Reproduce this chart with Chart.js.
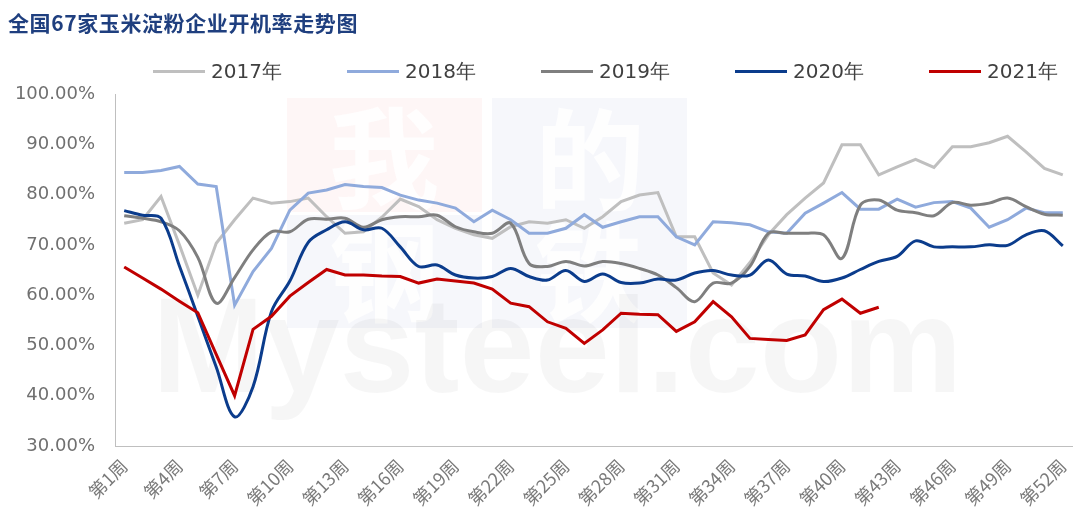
<!DOCTYPE html>
<html>
<head>
<meta charset="utf-8">
<script src="https://cdn.jsdelivr.net/npm/chart.js@4/dist/chart.umd.min.js"></script>
<style>
  body { margin: 0; background: #fff; }
  #wrap { position: relative; width: 1073px; height: 532px; }
  #title {
    position: absolute; left: 8px; top: 7px;
    font: bold 21px "Noto Sans CJK SC", sans-serif;
    color: #1F3F7F; letter-spacing: 0.6px;
  }
  #legend { position: absolute; left: 153px; top: 58px; display: flex; }
  .item { width: 194px; display: flex; align-items: center; height: 26px; }
  .swatch { width: 52px; height: 3px; margin-right: 6px; }
  .label { font: 20px "DejaVu Sans", sans-serif; color: #404040; }
</style>
</head>
<body>
<div id="wrap">
  <canvas id="chart" width="1073" height="532"></canvas>
  <div id="title">全国67家玉米淀粉企业开机率走势图</div>
  <div id="legend"></div>
</div>
<script>
// x categories: 第1周 ... 第52周
const weeks = [];
for (let i = 1; i <= 52; i++) weeks.push('第' + i + '周');

const seriesNames = ['2017年', '2018年', '2019年', '2020年', '2021年'];
const seriesColors = ['#BFBFBF', '#8FAADC', '#7F7F7F', '#0B3C8C', '#C00000'];

// operating rate, %
const rate2017 = [74.3, 75.0, 79.6, 70.0, 60.0, 70.3, 75.0, 79.3, 78.3, 78.6,
  79.3, 75.6, 72.3, 72.6, 75.5, 79.1, 77.6, 75.0, 73.3, 72.0,
  71.3, 73.6, 74.6, 74.3, 75.0, 73.3, 75.6, 78.6, 79.9, 80.4,
  71.6, 71.6, 64.4, 62.0, 66.5, 72.0, 76.0, 79.3, 82.3, 89.9,
  89.9, 83.9, 85.5, 87.0, 85.4, 89.5, 89.5, 90.3, 91.6, 88.5, 85.2, 83.9];
const rate2018 = [84.4, 84.4, 84.8, 85.6, 82.1, 81.6, 58.0, 64.7, 69.3, 76.9,
  80.3, 80.9, 82.0, 81.6, 81.4, 79.9, 78.9, 78.3, 77.3, 74.6,
  76.9, 75.0, 72.3, 72.3, 73.3, 76.0, 73.5, 74.6, 75.6, 75.6,
  71.6, 70.0, 74.6, 74.4, 74.0, 72.6, 72.3, 76.3, 78.3, 80.4,
  77.1, 77.1, 79.1, 77.5, 78.4, 78.6, 77.3, 73.5, 75.0, 77.3, 76.4, 76.4];
const rate2019 = [75.8, 75.3, 74.6, 72.8, 67.5, 58.4, 63.5, 69.0, 72.6, 72.6,
  75.1, 75.1, 75.3, 73.5, 75.0, 75.6, 75.6, 75.9, 73.6, 72.6,
  72.3, 74.3, 66.3, 65.7, 66.7, 65.8, 66.7, 66.3, 65.3, 64.0,
  61.5, 58.7, 62.4, 62.4, 65.7, 72.3, 72.3, 72.3, 72.0, 67.3,
  77.9, 78.9, 76.9, 76.4, 75.8, 78.4, 77.9, 78.3, 79.3, 77.6, 76.1, 75.9];
const rate2020 = [76.8, 75.9, 75.3, 65.8, 55.8, 45.7, 35.8, 41.8, 56.7, 62.8,
  70.5, 73.0, 74.6, 73.0, 73.3, 69.6, 65.7, 66.0, 64.0, 63.4,
  63.7, 65.3, 63.7, 63.0, 64.9, 62.7, 64.2, 62.5, 62.4, 63.2,
  63.0, 64.4, 64.9, 64.0, 64.0, 67.0, 64.2, 63.8, 62.7, 63.4,
  65.1, 66.7, 67.7, 70.8, 69.6, 69.6, 69.6, 70.0, 69.9, 72.0, 72.8, 69.8];
const rate2021 = [65.6, 63.4, 61.2, 58.8, 56.5, 48.2, 40.0, 53.2, 55.8, 59.8,
  62.5, 65.1, 64.0, 64.0, 63.8, 63.7, 62.4, 63.2, 62.8, 62.4,
  61.2, 58.4, 57.7, 54.7, 53.4, 50.4, 53.1, 56.4, 56.2, 56.1,
  52.8, 54.7, 58.7, 55.7, 51.4, 51.2, 51.0, 52.1, 57.1, 59.2,
  56.4, 57.6];

const yTicks = [30, 40, 50, 60, 70, 80, 90, 100];

const allRates = [rate2017, rate2018, rate2019, rate2020, rate2021];
// 2019 and 2020 are drawn as smoothed lines in the original
const smooth = [0, 0, 0.35, 0.35, 0];

// faint site watermark behind the lines
const watermark = {
  id: 'watermark',
  beforeDatasetsDraw(chart) {
    const ctx = chart.ctx;
    ctx.save();
    ctx.fillStyle = 'rgba(230,70,70,0.05)';
    ctx.fillRect(287, 98, 195, 114);
    ctx.fillStyle = 'rgba(70,100,170,0.05)';
    ctx.fillRect(287, 215, 195, 113);
    ctx.fillRect(492, 98, 195, 230);
    ctx.fillStyle = 'rgba(255,255,255,0.9)';
    ctx.font = 'bold 110px "Noto Sans CJK SC"';
    ctx.textAlign = 'center';
    ctx.textBaseline = 'middle';
    ctx.fillText('我', 384, 158);
    ctx.fillText('的', 590, 160);
    ctx.fillText('钢', 384, 272);
    ctx.fillText('铁', 590, 272);
    ctx.fillStyle = 'rgba(0,0,0,0.035)';
    ctx.font = 'bold 135px "Liberation Sans"';
    ctx.textAlign = 'left';
    ctx.textBaseline = 'alphabetic';
    ctx.fillText('Mysteel.com', 152, 392, 915);
    ctx.restore();
  }
};

const datasets = seriesNames.map((name, i) => ({
  label: name,
  data: allRates[i],
  borderColor: seriesColors[i],
  backgroundColor: seriesColors[i],
  borderWidth: 3,
  pointRadius: 0,
  tension: smooth[i],
  fill: false,
  order: 5 - i
}));

new Chart(document.getElementById('chart'), {
  type: 'line',
  data: { labels: weeks, datasets: datasets },
  options: {
    responsive: false,
    devicePixelRatio: 1,
    animation: false,
    layout: { padding: { left: 0, top: 94, right: 1, bottom: 0 } },
    plugins: {
      legend: { display: false },
      tooltip: { enabled: false }
    },
    scales: {
      x: {
        offset: true,
        grid: { display: false, drawTicks: false },
        border: { display: true, color: '#BFBFBF', width: 1 },
        ticks: {
          autoSkip: false,
          minRotation: 45,
          maxRotation: 45,
          padding: 9,
          color: '#7a7a7a',
          font: { size: 18, family: '"Noto Sans CJK SC", sans-serif' },
          callback: (v, i) => (i % 3 === 0 ? weeks[i] : '')
        },
        afterFit: s => { s.height = 86; s.paddingLeft = 0; s.paddingRight = 0; }
      },
      y: {
        min: 30,
        max: 100,
        grid: { display: false, drawTicks: false },
        border: { display: true, color: '#BFBFBF', width: 1 },
        afterBuildTicks: s => { s.ticks = yTicks.map(v => ({ value: v })); },
        ticks: {
          padding: 20,
          color: '#707070',
          font: { size: 18, family: '"DejaVu Sans", sans-serif' },
          callback: v => v.toFixed(2) + '%'
        },
        afterFit: s => { s.width = 115; s.paddingTop = 0; s.paddingBottom = 0; }
      }
    }
  },
  plugins: [watermark]
});

// legend in the same order as the series
const legend = document.getElementById('legend');
seriesNames.forEach((name, i) => {
  const item = document.createElement('div');
  item.className = 'item';
  item.innerHTML = '<span class="swatch" style="background:' + seriesColors[i] +
    '"></span><span class="label">' + name + '</span>';
  legend.appendChild(item);
});
</script>
</body>
</html>
